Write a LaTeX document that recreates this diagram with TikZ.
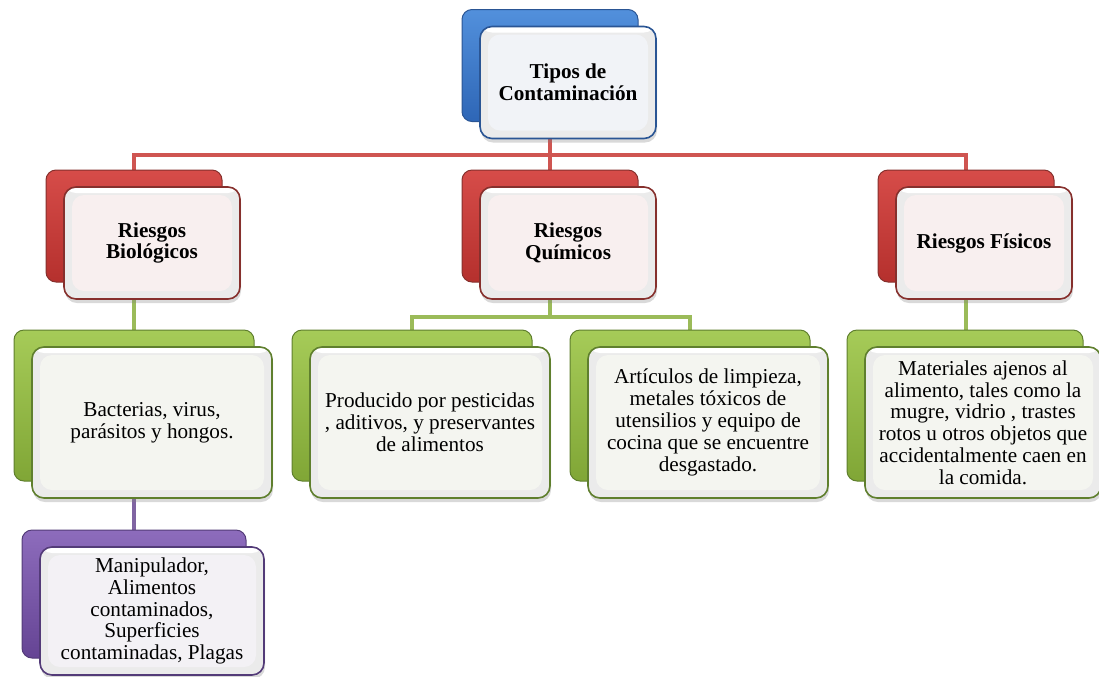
\documentclass[tikz,border=0pt]{standalone}
\usepackage{fontspec}
\setmainfont{Liberation Serif}
\usepackage{xcolor}
\usepackage{tikz}
\usetikzlibrary{shadows, backgrounds}

% Office-like palette
\definecolor{bluTop}{HTML}{5290DC}
\definecolor{bluBack}{HTML}{2E66B6}
\definecolor{bluEdge}{HTML}{2A5594}
\definecolor{bluTint}{HTML}{F1F3F7}
\definecolor{redTop}{HTML}{D64C49}
\definecolor{redBack}{HTML}{B5302D}
\definecolor{redEdge}{HTML}{86302D}
\definecolor{redTint}{HTML}{F8EFEF}
\definecolor{grnTop}{HTML}{A6CB58}
\definecolor{grnBack}{HTML}{80A636}
\definecolor{grnEdge}{HTML}{5F7F2E}
\definecolor{grnTint}{HTML}{F4F5F0}
\definecolor{purTop}{HTML}{8D6CBC}
\definecolor{purBack}{HTML}{654494}
\definecolor{purEdge}{HTML}{533B78}
\definecolor{purTint}{HTML}{F3F1F5}
\definecolor{redLine}{HTML}{CF5551}
\definecolor{grnLine}{HTML}{9BBB59}
\definecolor{purLine}{HTML}{8064A2}
\tikzstyle{link} = [line width=2.3pt]

\begin{document}
\begin{tikzpicture}[x=0.5pt, y=-0.5pt, font=\fontsize{10.6}{10.9}\selectfont,
    backbox/.style={rectangle, rounded corners=5pt, draw=#1Edge, line width=0.5pt, top color=#1Top, bottom color=#1Back},
    frontbox/.style={rectangle, rounded corners=6pt, align=center, draw=#1Edge, line width=0.8pt, fill=gray!16,
        drop shadow={shadow xshift=0.5pt, shadow yshift=-2pt, opacity=0.3},
        path picture={
            \fill[white] (path picture bounding box.north west) rectangle ([yshift=-3pt]path picture bounding box.north east);
            \fill[#1Tint] ([shift={(4pt,-4pt)}]path picture bounding box.north west) rectangle ([shift={(-4pt,4pt)}]path picture bounding box.south east);
        }},
    level/.style={minimum width=88pt, minimum height=56pt},
    leaf/.style={minimum width=120pt, minimum height=75.5pt}]

    \useasboundingbox (0,0) rectangle (1099,676);

    % Root
    \node[backbox=blu, level] (topB) at (550,65.5) {};
    \node[frontbox=blu, level, font=\fontsize{10.6}{10.9}\selectfont\bfseries] (top) at ([shift={(18,17)}]topB.center) {Tipos de\\Contaminación};

    % Riesgos
    \node[backbox=red, level] (bioB) at (134,226) {};
    \node[frontbox=red, level, font=\fontsize{10.6}{10.9}\selectfont\bfseries] (bio) at ([shift={(18,17)}]bioB.center) {Riesgos\\Biológicos};
    \node[backbox=red, level] (quiB) at (550,226) {};
    \node[frontbox=red, level, font=\fontsize{10.6}{10.9}\selectfont\bfseries] (qui) at ([shift={(18,17)}]quiB.center) {Riesgos\\Químicos};
    \node[backbox=red, level] (fisB) at (966,226) {};
    \node[frontbox=red, level, font=\fontsize{10.6}{10.9}\selectfont\bfseries] (fis) at ([shift={(18,17)}]fisB.center) {Riesgos Físicos};

    % Detalles
    \node[backbox=grn, leaf] (bioGB) at (134,405.5) {};
    \node[frontbox=grn, leaf] (bioG) at ([shift={(18,17)}]bioGB.center) {Bacterias, virus,\\parásitos y hongos.};
    \node[backbox=grn, leaf] (quiAB) at (412,405.5) {};
    \node[frontbox=grn, leaf] (quiA) at ([shift={(18,17)}]quiAB.center) {Producido por pesticidas\\, aditivos, y preservantes\\de alimentos};
    \node[backbox=grn, leaf] (quiCB) at (690,405.5) {};
    \node[frontbox=grn, leaf] (quiC) at ([shift={(18,17)}]quiCB.center) {Artículos de limpieza,\\metales tóxicos de\\utensilios y equipo de\\cocina que se encuentre\\desgastado.};
    \node[backbox=grn, leaf, minimum width=118pt] (fisGB) at (965,405.5) {};
    \node[frontbox=grn, leaf, minimum width=118pt] (fisG) at ([shift={(18,17)}]fisGB.center) {Materiales ajenos al\\alimento, tales como la\\mugre, vidrio , trastes\\rotos u otros objetos que\\accidentalmente caen en\\la comida.};

    % Fuentes
    \node[backbox=pur, minimum width=112pt, minimum height=64pt] (purB) at (134,594) {};
    \node[frontbox=pur, minimum width=112pt, minimum height=64pt] (pur) at ([shift={(18,17)}]purB.center) {Manipulador,\\Alimentos\\contaminados,\\Superficies\\contaminadas, Plagas};

    % Links
    \coordinate (redbus) at (0,155);
    \coordinate (grnbus) at (0,317);
    \begin{scope}[on background layer]
        \draw[link, redLine] (topB.center) -- (quiB.center);
        \draw[link, redLine] (bioB.center) |- (redbus -| topB.center) -| (fisB.center);
        \draw[link, grnLine] (bioB.center) -- (bioGB.center);
        \draw[link, grnLine] (quiAB.center) |- (grnbus -| quiB.center) -| (quiCB.center);
        \draw[link, grnLine] (quiB.center) -- (grnbus -| quiB.center);
        \draw[link, grnLine] (fisB.center) -- (fisB.center |- fisGB.center);
        \draw[link, purLine] (bioGB.center) -- (purB.center);
    \end{scope}
\end{tikzpicture}
\end{document}
